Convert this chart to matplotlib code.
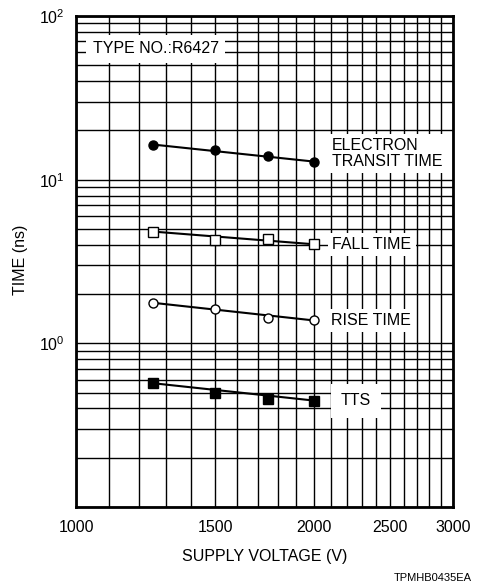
import matplotlib
matplotlib.use("Agg")
import matplotlib.pyplot as plt
from matplotlib.ticker import FixedLocator, NullFormatter, FixedFormatter

plt.rcParams['font.family'] = ['Liberation Sans', 'DejaVu Sans']
plt.rcParams['mathtext.fontset'] = 'custom'
plt.rcParams['mathtext.rm'] = 'Liberation Sans'
plt.rcParams['mathtext.default'] = 'regular'

voltage = [1250, 1500, 1750, 2000]
electron_transit = [16.4, 15.1, 14.0, 12.9]
fall_time = [4.82, 4.27, 4.33, 4.03]
rise_time = [1.77, 1.61, 1.43, 1.38]
tts = [0.571, 0.495, 0.458, 0.447]

x_ticks = [1000, 1500, 2000, 2500, 3000]
x_grid = list(range(1000, 3001, 100))
y_ticks = [1, 10, 100]
y_labels = [r'$10^{0}$', r'$10^{1}$', r'$10^{2}$']

FS = 11.5

fig = plt.figure(figsize=(4.79, 5.84), dpi=100)
ax = fig.add_axes([76/479, 1-507/584, (453-76)/479, (507-16)/584])
ax.set_xscale('log')
ax.set_yscale('log')
ax.set_xlim(1000, 3000)
ax.set_ylim(0.1, 100)

for xv in x_grid:
    ax.axvline(xv, color='black', lw=1.0, zorder=1)
ygrid = [m * 10.0**e for e in (-1, 0, 1) for m in range(1, 10)] + [100]
for yv in ygrid:
    ax.axhline(yv, color='black', lw=1.0, zorder=1)

ax.xaxis.set_major_locator(FixedLocator(x_ticks))
ax.xaxis.set_major_formatter(FixedFormatter([str(t) for t in x_ticks]))
ax.xaxis.set_minor_locator(FixedLocator([]))
ax.xaxis.set_minor_formatter(NullFormatter())
ax.yaxis.set_major_locator(FixedLocator(y_ticks))
ax.yaxis.set_major_formatter(FixedFormatter(y_labels))
ax.yaxis.set_minor_locator(FixedLocator([]))
ax.yaxis.set_minor_formatter(NullFormatter())
ax.tick_params(axis='both', which='both', length=0, labelsize=FS)
ax.tick_params(axis='x', pad=9)
ax.tick_params(axis='y', pad=8)
for s in ax.spines.values():
    s.set_linewidth(2.0)
    s.set_zorder(5)

series = [
    (electron_transit, 'o', 'black', 6.5),
    (fall_time, 's', 'white', 7),
    (rise_time, 'o', 'white', 6.5),
    (tts, 's', 'black', 7),
]
for vals, mk, fc, ms in series:
    ax.plot([voltage[0], voltage[-1]], [vals[0], vals[-1]], color='black', lw=1.5, zorder=3)
    ax.plot(voltage, vals, linestyle='none', marker=mk, markerfacecolor=fc,
            markeredgecolor='black', markersize=ms, markeredgewidth=1.0, zorder=4)

bbox = dict(facecolor='white', edgecolor='none', pad=3)
ax.text(1050, 63, 'TYPE NO.:R6427', fontsize=FS, ha='left', va='center',
        bbox=dict(facecolor='white', edgecolor='none', boxstyle='square,pad=0.4'), zorder=4)
ax.text(2110, 14.4, 'ELECTRON\nTRANSIT TIME', fontsize=FS, ha='left', va='center',
        linespacing=1.05, bbox=bbox, zorder=4)
ax.text(2110, 4.03, 'FALL TIME', fontsize=FS, ha='left', va='center', bbox=bbox, zorder=4)
ax.text(2100, 1.38, 'RISE TIME', fontsize=FS, ha='left', va='center', bbox=bbox, zorder=4)
ax.text(2260, 0.445, 'TTS', fontsize=FS, ha='center', va='center',
        bbox=dict(facecolor='white', edgecolor='none', boxstyle='square,pad=0.6'), zorder=4)

fig.text(20/479, 1-260/584, 'TIME (ns)', rotation=90, fontsize=FS, ha='center', va='center')
fig.text(265/479, 1-557/584, 'SUPPLY VOLTAGE (V)', fontsize=FS, ha='center', va='center')
fig.text(433/479, 1-578/584, 'TPMHB0435EA', fontsize=8, ha='center', va='center')

fig.savefig('out.png', dpi=100, facecolor='white')
